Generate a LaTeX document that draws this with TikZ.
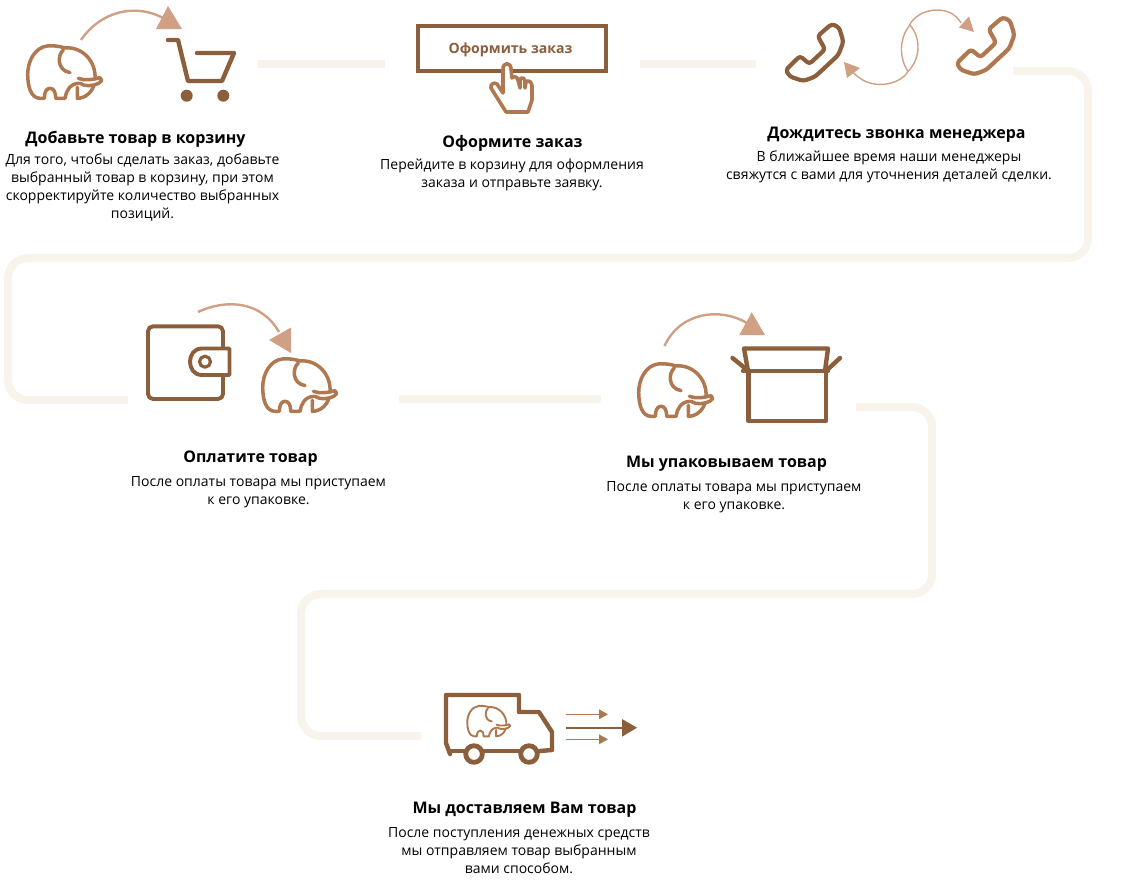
\documentclass[tikz,border=0pt]{standalone}
\usepackage{fontspec}
\setmainfont{Open Sans}
\definecolor{pathc}{HTML}{F8F4EB}
\definecolor{darkc}{HTML}{8B5E3C}
\definecolor{midc}{HTML}{B07850}
\definecolor{lightc}{HTML}{D0A084}
\tikzset{
	elephant/.pic={
		\begin{scope}[scale=1/3,line join=round,line cap=round]
		\draw (205,102) .. controls (208,50) and (165,6) .. (115,11) .. controls (100,6) and (78,3) .. (62,5) .. controls (25,9) and (3,50) .. (3,90) .. controls (3,125) and (12,162) .. (40,162) -- (53,162) .. controls (53,145) and (58,132) .. (70,132) .. controls (82,132) and (87,145) .. (87,162) -- (115,162) .. controls (118,140) and (130,118) .. (157,117);
		\draw (110,17) .. controls (92,32) and (90,78) .. (130,85);
		\draw (155,102) .. controls (175,110) and (200,106) .. (220,100) -- (225,109) -- (216,117) .. controls (200,125) and (175,128) .. (160,117);
		\draw (152,129) -- (152,162) .. controls (175,162) and (195,145) .. (202,122);
		\end{scope}
	},
	phone/.pic={
		\begin{scope}[scale=1/3]
		\draw[rounded corners=3pt] (0,138) -- (43,96) -- (71,120) -- (118,76) -- (96,36) -- (138,0) -- (160,10) -- (173,53) -- (158,93) -- (88,158) -- (53,171) -- (13,158) -- cycle;
		\end{scope}
	}
}
\begin{document}
\begin{tikzpicture}
	[x=1pt,y=-1pt,
	pathline/.style ={draw=pathc, line width=8pt, rounded corners=20pt},
	icon/.style ={draw=darkc, line width=4.4pt, line join=round, line cap=round},
	iconb/.style ={draw=midc, line width=3.6pt, line join=round, line cap=round},
	curve/.style ={draw=lightc, line width=2.4pt},
	tip/.style ={fill=lightc},
	title/.style ={font=\fontsize{16}{18}\selectfont\bfseries, inner sep=0pt},
	body/.style ={font=\fontsize{14}{18}\selectfont, align=center, inner sep=0pt, anchor=north},
	]
	\useasboundingbox (0,0) rectangle (1129,886);

	% connectors
	\coordinate (A1) at (258,64);
	\coordinate (A2) at (385,64);
	\coordinate (B1) at (640,64);
	\coordinate (B2) at (756,64);
	\coordinate (C1) at (1013,71);
	\coordinate (C2) at (128,400);
	\coordinate (D1) at (399,399);
	\coordinate (D2) at (601,399);
	\coordinate (E1) at (856,407);
	\coordinate (E2) at (421,736);
	\draw[pathline] (A1) -- (A2);
	\draw[pathline] (B1) -- (B2);
	\draw[pathline] (C1) -- (1088,71) -- (1088,258) -- (8,258) -- (8,400) -- (C2);
	\draw[pathline] (D1) -- (D2);
	\draw[pathline] (E1) -- (932,407) -- (932,594) -- (301,594) -- (301,736) -- (E2);

	% texts
	\node[title] (T1) at (135.5,139) {Добавьте товар в корзину};
	\node[body] (X1) at (142.5,153.5) {Для того, чтобы сделать заказ, добавьте\\выбранный товар в корзину, при этом\\скорректируйте количество выбранных\\позиций.};
	\node[title] (T2) at (512.5,143) {Оформите заказ};
	\node[body] (X2) at (512,158.5) {Перейдите в корзину для оформления\\заказа и отправьте заявку.};
	\node[title] (T3) at (896.5,135) {Дождитесь звонка менеджера};
	\node[body] (X3) at (889,150.5) {В ближайшее время наши менеджеры\\свяжутся с вами для уточнения деталей сделки.};
	\node[title] (T4) at (250.5,459) {Оплатите товар};
	\node[body] (X4) at (258.5,476.5) {После оплаты товара мы приступаем\\к его упаковке.};
	\node[title] (T5) at (726.5,464) {Мы упаковываем товар};
	\node[body] (X5) at (734,481.5) {После оплаты товара мы приступаем\\к его упаковке.};
	\node[title] (T6) at (524.5,810) {Мы доставляем Вам товар};
	\node[body] (X6) at (519,827.5) {После поступления денежных средств\\мы отправляем товар выбранным\\вами способом.};

	% step 1
	\pic[draw=midc, line width=3.5pt] at (26.7,44.3) {elephant};
	\draw[curve] (81,40) .. controls (100,12) and (135,2) .. (165,19);
	\fill[tip] (168,6) -- (156,29) -- (182,29) -- cycle;
	\draw[icon] (168,40) -- (178,40) -- (188,81) -- (222,81) -- (234,53) -- (197,53);
	\fill[darkc] (186.7,95.7) circle (6pt) (223.3,95.7) circle (6pt);

	% step 2
	\draw[icon, line cap=butt, line join=miter] (418,26) rectangle (606,71);
	\node[font=\fontsize{14.1}{16}\selectfont\bfseries, text=darkc, inner sep=0pt] (BT) at (510.5,49.5) {Оформить заказ};
	\draw[iconb, fill=white] (503,93) -- (503,69) .. controls (503,62) and (511,62) .. (511,69) -- (512,78) .. controls (513,76) and (517,76) .. (518,80) -- (520,88) -- (520,79) .. controls (522,77) and (525,78) .. (525,82) -- (525,88) -- (526,82) .. controls (529,79) and (532,83) .. (532,86) -- (532,100) -- (528,112) -- (506,112) -- (491,88) .. controls (490,84) and (494,82) .. (497,84) -- cycle;

	% step 3
	\pic[draw=darkc, line width=4.2pt, line join=round] at (785.7,24) {phone};
	\pic[draw=midc, line width=4.2pt, line join=round] at (956.7,17.3) {phone};
	\draw[curve, line width=1.4pt] (909.5,25) .. controls (918,8) and (950,3) .. (961,23);
	\fill[tip] (974,32) -- (959,27.5) -- (969,16.5) -- cycle;
	\draw[curve, line width=1.4pt] (908,71.5) .. controls (900,85) and (870,92) .. (853,72);
	\fill[tip] (844,62) -- (860,68) -- (847,78) -- cycle;
	\draw[curve, line width=1.4pt] (910,25) .. controls (899,38) and (899,58) .. (908,71.5);
	\draw[curve, line width=1.4pt] (910,25) .. controls (921,38) and (921,58) .. (908,71.5);

	% step 4
	\draw[icon, rounded corners=5pt, line width=3.9pt] (148,326.3) rectangle (223,399);
	\draw[icon, fill=white, line width=3.9pt] (223,348.5) -- (229.5,348.5) -- (229.5,375) -- (202,375) .. controls (186,375) and (186,348.5) .. (202,348.5) -- cycle;
	\draw[icon, line width=3.2pt] (205,361.7) circle (5.5pt);
	\draw[curve] (198,312) .. controls (228,298) and (262,302) .. (279,332);
	\fill[tip] (291,327.5) -- (269,340) -- (291,353) -- cycle;
	\pic[draw=midc, line width=3.5pt] at (261.7,357.3) {elephant};

	% step 5
	\pic[draw=midc, line width=3.5pt] at (637.7,362.3) {elephant};
	\draw[curve] (664.5,346) .. controls (680,312) and (720,307) .. (747,323);
	\fill[tip] (751.7,312.3) -- (739.3,335) -- (765,335) -- cycle;
	\draw[icon] (748,371) -- (744,348.5) -- (828,348.5) -- (825,371);
	\draw[icon] (743,370.7) -- (828,370.7);
	\draw[icon] (748.5,371) -- (748.5,421) -- (826,421) -- (826,371);
	\draw[icon] (732.5,358) -- (748.5,371);
	\draw[icon] (840,358) -- (826,371);

	% step 6
	\draw[icon] (450,754) -- (446,743) -- (446,695) -- (519,695) -- (519,712) -- (539,712) -- (552,732) -- (552,750) -- (540,751);
	\draw[icon] (451,751) -- (465,751);
	\draw[icon] (484,751) -- (521,751);
	\draw[icon, line width=4.8pt] (474,754) circle (8.3pt);
	\draw[icon, line width=4.8pt] (529,754) circle (8.3pt);
	\pic[draw=midc, line width=1.9pt] at (466.7,705) [scale=.58] {elephant};
	\coordinate (F1) at (566,714.3);
	\coordinate (F2) at (566,727.7);
	\coordinate (F3) at (566,739.3);
	\draw[draw=midc, line width=1.3pt] (F1) -- +(33,0);
	\fill[midc] (599,709.3) -- (608,714.3) -- (599,719.3) -- cycle;
	\draw[draw=darkc, line width=1.7pt] (F2) -- +(58,0);
	\fill[darkc] (622,719) -- (637,727.7) -- (622,736.7) -- cycle;
	\draw[draw=midc, line width=1.3pt] (F3) -- +(33,0);
	\fill[midc] (599,734.3) -- (608,739.3) -- (599,744.3) -- cycle;
\end{tikzpicture}
\end{document}
